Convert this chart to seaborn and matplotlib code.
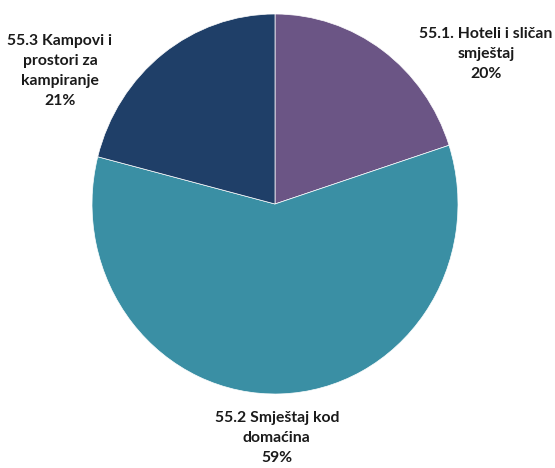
import numpy as np
import matplotlib.pyplot as plt
import seaborn as sns

sns.set_theme(style="white")
plt.rcParams['font.family'] = ['Lato', 'DejaVu Sans']

# data
categories = ["55.1. Hoteli i sličan\nsmještaj", "55.2 Smještaj kod\ndomaćina", "55.3 Kampovi i\nprostori za\nkampiranje"]
shares = [20, 59, 21]
colors = ["#6B5585", "#3A8FA4", "#1F3F68"]

fig = plt.figure(figsize=(5.55, 4.68), dpi=100)
# pie area in pixels: centre (275, 204), radii 183 x 190
ax = fig.add_axes([92 / 555, 74 / 468, 366 / 555, 380 / 468])

wedges, _ = ax.pie(shares, colors=colors, startangle=90, counterclock=False,
                   radius=1, wedgeprops=dict(edgecolor="white", linewidth=0.5))
ax.set_aspect("auto")
ax.set_xlim(-1, 1)
ax.set_ylim(-1, 1)
ax.axis("off")

# label positions in data coords
label_pos = [(1.153, 0.79), (0.01, -1.232), (-1.175, 0.70)]
for (x, y), name, val in zip(label_pos, categories, shares):
    ax.text(x, y, f"{name}\n{val}%", ha="center", va="center", fontsize=11.3,
            fontweight="bold", color="#1a1a1a", linespacing=1.55, clip_on=False)

plt.savefig("out.png", dpi=100)
